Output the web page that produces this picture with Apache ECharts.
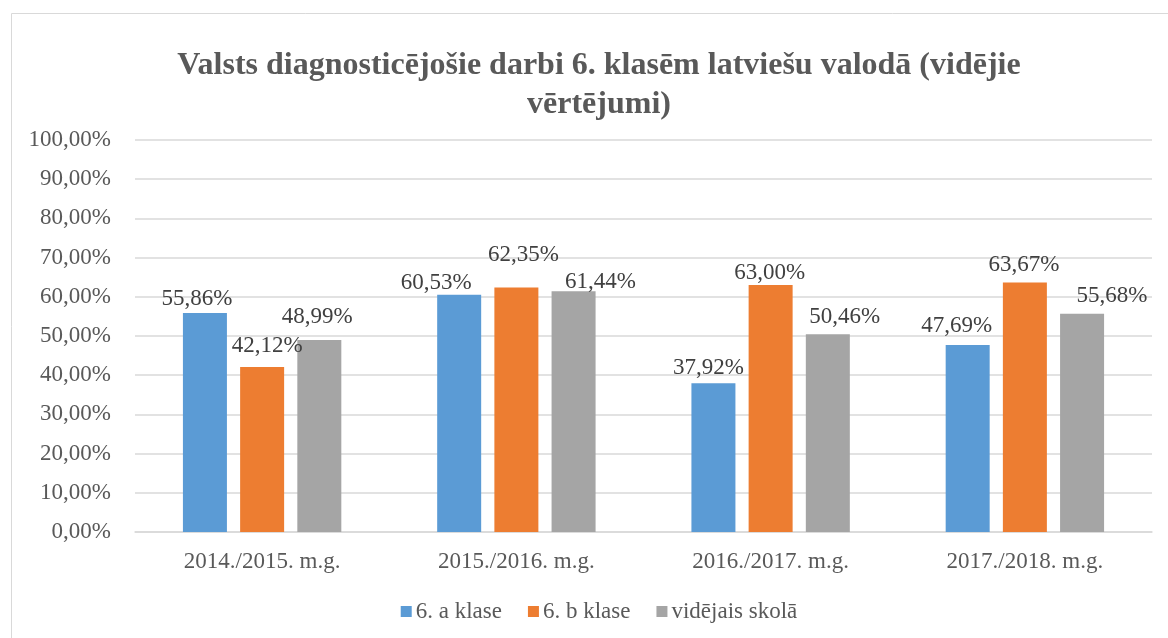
<!DOCTYPE html>
<html>
<head>
<meta charset="utf-8">
<title>Valsts diagnosticējošie darbi</title>
<script src="https://cdn.jsdelivr.net/npm/echarts@6/dist/echarts.min.js"></script>
<style>
  html, body { margin: 0; padding: 0; background: #fff; overflow: hidden; }
  #chart { width: 1198px; height: 638px; }
</style>
</head>
<body>
<div id="chart"></div>
<script>
var years = ['2014./2015. m.g.', '2015./2016. m.g.', '2016./2017. m.g.', '2017./2018. m.g.'];
var klaseA = [55.86, 60.53, 37.92, 47.69];
var klaseB = [42.12, 62.35, 63.00, 63.67];
var skola = [48.99, 61.44, 50.46, 55.68];
var seriesNames = ['6. a klase', '6. b klase', 'vidējais skolā'];

// Excel moved some labels to avoid overlaps, nudge ours the same way [dx, dy]
var labelNudge = [
    [[-8, 0], [-23, 3], [-5, -1], [-11, -5]],
    [[5, -6], [7, -18], [-1, 2], [-1, -3]],
    [[-2, -9], [27, 5], [17, -3], [30, -3]]
];

var font = "'Liberation Serif', 'Times New Roman', serif";
var colors = ['#5B9BD5', '#ED7D31', '#A5A5A5'];

function pct(v) {
    return v.toFixed(2).replace('.', ',') + '%';
}

function makeSeries(name, values, idx) {
    return {
        name: name,
        type: 'bar',
        barWidth: 44,
        barGap: '30%',
        itemStyle: { color: colors[idx] },
        label: {
            show: true,
            position: 'top',
            distance: 3,
            fontFamily: font,
            fontSize: 23,
            color: '#404040',
            formatter: function (p) { return pct(p.value); }
        },
        data: values.map(function (v, i) {
            return { value: v, label: { offset: labelNudge[idx][i] } };
        })
    };
}

var chart = echarts.init(document.getElementById('chart'), null, { renderer: 'canvas' });

chart.setOption({
    animation: false,
    color: colors,
    textStyle: { fontFamily: font },
    graphic: [{
        type: 'rect',
        shape: { x: 11.5, y: 13.5, width: 1175, height: 700 },
        style: { fill: 'none', stroke: '#D9D9D9', lineWidth: 1 },
        silent: true
    }],
    title: {
        text: 'Valsts diagnosticējošie darbi 6. klasēm latviešu valodā (vidējie\nvērtējumi)',
        left: 'center',
        top: 41,
        textStyle: {
            fontFamily: font,
            fontSize: 32,
            fontWeight: 'bold',
            color: '#595959',
            lineHeight: 39
        }
    },
    legend: {
        bottom: 10,
        left: 'center',
        icon: 'rect',
        itemWidth: 11,
        itemHeight: 11,
        itemGap: 26,
        textStyle: { fontFamily: font, fontSize: 23, color: '#595959', padding: [0, 0, 0, -1] },
        data: seriesNames
    },
    grid: { left: 135, right: 46, top: 140, bottom: 106, containLabel: false },
    xAxis: {
        type: 'category',
        data: years,
        axisTick: { show: false },
        axisLine: { lineStyle: { color: '#D9D9D9', width: 1.5 } },
        axisLabel: { fontFamily: font, fontSize: 23, color: '#595959', margin: 18 }
    },
    yAxis: {
        type: 'value',
        min: 0,
        max: 100,
        interval: 10,
        axisLine: { show: false },
        axisTick: { show: false },
        splitLine: { lineStyle: { color: '#D9D9D9', width: 1.5 } },
        axisLabel: {
            fontFamily: font, fontSize: 23, color: '#595959', margin: 24,
            formatter: function (v) { return pct(v); }
        }
    },
    series: [
        makeSeries(seriesNames[0], klaseA, 0),
        makeSeries(seriesNames[1], klaseB, 1),
        makeSeries(seriesNames[2], skola, 2)
    ]
});
</script>
</body>
</html>
